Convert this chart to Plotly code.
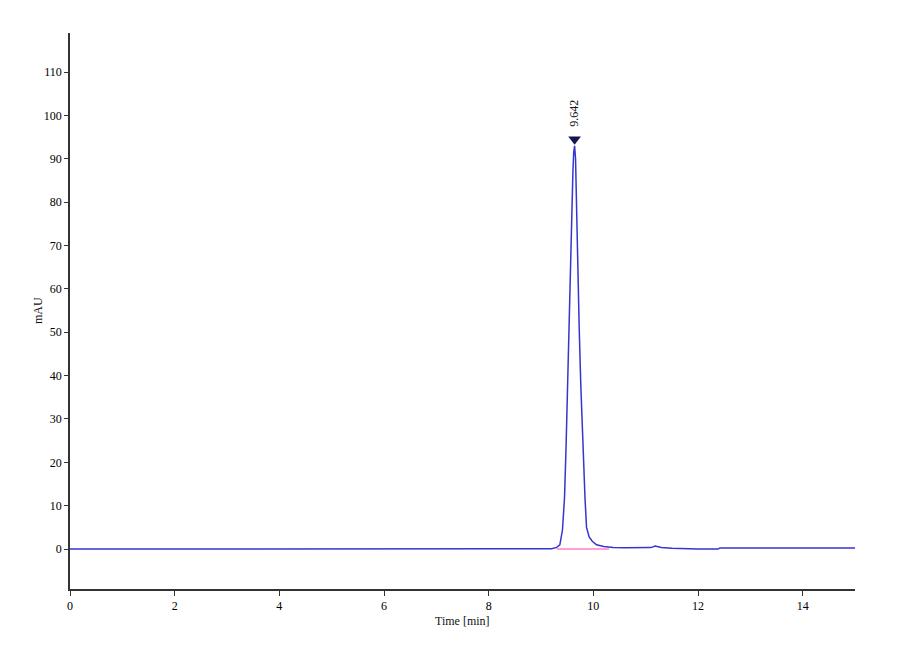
import plotly.graph_objects as go

# chromatogram (time in min, signal in mAU)
time_min = [0.0, 3.0, 6.0, 7.5, 9.0, 9.2, 9.30, 9.36, 9.41, 9.45, 9.48, 9.51,
            9.535, 9.56, 9.585, 9.61, 9.625, 9.642, 9.66, 9.68, 9.70, 9.73,
            9.76, 9.80, 9.84, 9.87, 9.92, 9.98, 10.06, 10.2, 10.38, 10.6,
            11.0, 11.1, 11.18, 11.3, 11.5, 11.75, 12.0, 12.38, 12.42, 15.0]
signal_mau = [0.0, 0.0, 0.0, 0.05, 0.05, 0.1, 0.4, 1.0, 4.4, 12.0, 24.0, 40.0,
              52.0, 64.0, 74.0, 87.0, 91.5, 93.0, 90.0, 76.0, 65.0, 51.0,
              38.0, 24.0, 12.0, 5.0, 2.8, 1.8, 1.0, 0.6, 0.35, 0.3,
              0.25, 0.35, 0.7, 0.35, 0.2, 0.05, 0.0, 0.0, 0.25, 0.25]

# integration baseline under the peak
base_t = [9.3, 10.3]
base_y = [0.0, 0.0]

# peak label
peak_t = [9.642]
peak_y = [94.5]
peak_label = ["9.642"]

serif = "Liberation Serif, Times New Roman, serif"

fig = go.Figure()
fig.add_trace(go.Scatter(x=base_t, y=base_y, mode="lines",
                         line=dict(color="#ff80c8", width=1.5)))
fig.add_trace(go.Scatter(x=time_min, y=signal_mau, mode="lines",
                         line=dict(color="#3535d0", width=1.5)))
fig.add_trace(go.Scatter(x=peak_t, y=peak_y, mode="markers",
                         marker=dict(symbol="triangle-down", size=11, color="#15154f")))

fig.add_annotation(x=peak_t[0], y=peak_y[0], text=peak_label[0], textangle=-90,
                   showarrow=False, yshift=26, xshift=0,
                   font=dict(family=serif, size=12, color="#111111"))

# axis titles placed by hand, closer to the axes than plotly puts them
fig.add_annotation(x=0, y=0.5, xref="paper", yref="paper", text="mAU", textangle=-90,
                   xanchor="center", yanchor="middle",
                   showarrow=False, xshift=-32, font=dict(family=serif, size=12, color="#111111"))
fig.add_annotation(x=0.5, y=0, xref="paper", yref="paper", text="Time [min]",
                   xanchor="center", yanchor="middle",
                   showarrow=False, yshift=-32, font=dict(family=serif, size=12, color="#111111"))

# page body adds 8px offset, so the figure is a bit smaller than the window
fig.update_layout(
    width=892, height=652,
    margin=dict(l=62, r=45, t=25, b=71),
    paper_bgcolor="white", plot_bgcolor="white",
    showlegend=False,
    font=dict(family=serif, size=12, color="#000000"),
)
fig.update_xaxes(range=[0, 15], tickvals=[0, 2, 4, 6, 8, 10, 12, 14],
                 showgrid=False, zeroline=False, showline=True, linecolor="#333333",
                 linewidth=1.5, ticks="outside", ticklen=5, tickcolor="#333333")
fig.update_yaxes(range=[-9.2, 119], tickvals=list(range(0, 111, 10)),
                 showgrid=False, zeroline=False, showline=True, linecolor="#333333",
                 linewidth=1.5, ticks="outside", ticklen=4, tickcolor="#333333")

fig.write_html("out.html")
